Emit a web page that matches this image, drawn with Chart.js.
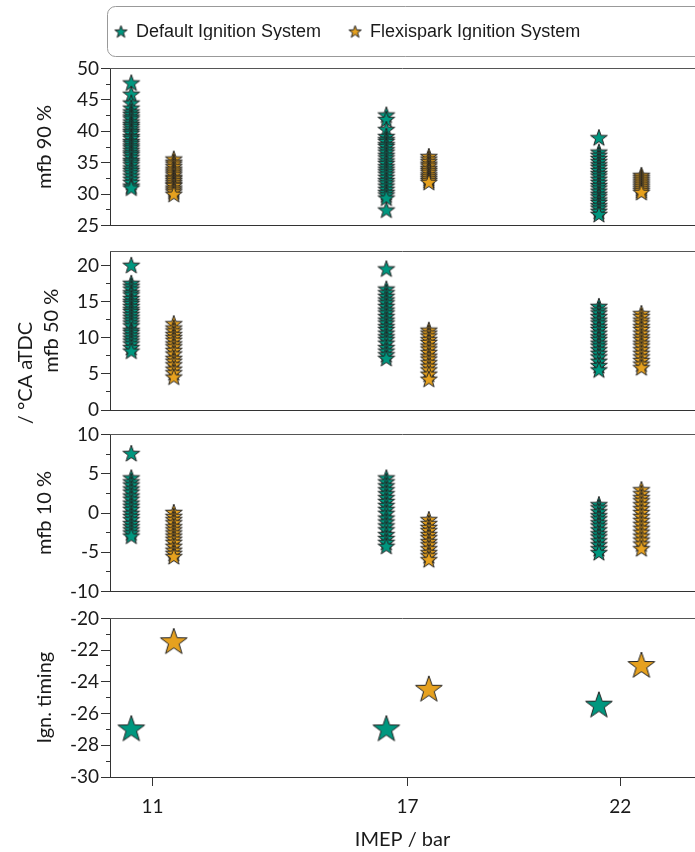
<!DOCTYPE html>
<html>
<head>
<meta charset="utf-8">
<title>Combustion phasing vs IMEP</title>
<script src="https://cdn.jsdelivr.net/npm/chart.js@4/dist/chart.umd.min.js"></script>
<style>
  html, body { margin: 0; padding: 0; background: #fff; overflow: hidden; }
  #wrap { position: relative; width: 695px; height: 852px; overflow: hidden; background: #fff; }
  #wrap canvas { position: absolute; left: 0; }
</style>
</head>
<body>
<div id="wrap">
  <canvas id="c90"  width="695" height="184" style="top:55px"></canvas>
  <canvas id="c50"  width="695" height="195" style="top:238px"></canvas>
  <canvas id="c10"  width="695" height="184" style="top:421px"></canvas>
  <canvas id="cign" width="695" height="247" style="top:605px"></canvas>
  <canvas id="cleg" width="608" height="90"  style="top:-5px;left:87px"></canvas>
</div>
<script>
// ---- data -------------------------------------------------------------
const imepLevels = [11, 17, 22];                       // IMEP / bar
const seriesNames = ['Default Ignition System', 'Flexispark Ignition System'];

// mass fraction burned 90 % (°CA aTDC), per IMEP level
const mfb90Default11 = [47.6, 45.8, 44.4, 43.6, 43.0, 42.6, 42.2, 41.9, 41.4, 41.0, 40.7, 40.3, 39.9, 39.6, 39.1, 38.8, 38.3, 38.0, 37.6, 37.3, 36.9, 36.5, 36.2, 35.8, 35.3, 35.0, 34.6, 34.1, 33.7, 33.3, 32.8, 32.3, 31.8, 31.2, 30.9];
const mfb90Flexi11   = [35.5, 35.0, 34.7, 34.3, 33.9, 33.6, 33.3, 33.0, 32.6, 32.4, 32.1, 31.8, 31.5, 31.3, 30.9, 30.6, 30.3, 29.9];
const mfb90Default17 = [42.5, 41.8, 40.2, 39.1, 38.6, 38.3, 37.8, 37.5, 37.0, 36.6, 36.1, 35.7, 35.2, 34.8, 34.3, 33.9, 33.5, 33.1, 32.6, 32.1, 31.7, 31.2, 30.7, 30.2, 29.8, 29.3, 27.4];
const mfb90Flexi17   = [35.9, 35.5, 35.1, 34.7, 34.4, 34.0, 33.7, 33.4, 33.0, 32.7, 32.4, 32.1, 31.8];
const mfb90Default22 = [38.9, 36.6, 36.1, 35.6, 35.1, 34.6, 34.2, 33.7, 33.2, 32.8, 32.3, 31.8, 31.3, 30.9, 30.4, 29.9, 29.5, 29.0, 28.6, 28.1, 27.7, 27.2, 26.7];
const mfb90Flexi22   = [32.9, 32.6, 32.3, 32.0, 31.7, 31.4, 31.1, 30.8, 30.5, 30.2];

// mass fraction burned 50 % (°CA aTDC)
const mfb50Default11 = [20.0, 17.5, 17.1, 16.7, 16.2, 15.9, 15.4, 15.0, 14.7, 14.3, 13.9, 13.6, 13.2, 12.8, 12.4, 12.0, 11.6, 11.0, 10.7, 10.3, 9.9, 9.5, 9.1, 8.6, 8.1];
const mfb50Flexi11   = [11.9, 11.3, 10.9, 10.4, 10.0, 9.6, 9.1, 8.7, 8.2, 7.7, 7.1, 6.7, 6.2, 5.6, 5.1, 4.5];
const mfb50Default17 = [19.5, 16.7, 16.2, 15.7, 15.2, 14.8, 14.3, 13.8, 13.4, 12.9, 12.4, 12.0, 11.5, 11.1, 10.6, 10.1, 9.7, 9.2, 8.6, 8.1, 7.6, 7.1];
const mfb50Flexi17   = [11.0, 10.6, 10.2, 9.7, 9.3, 8.8, 8.4, 7.9, 7.4, 7.0, 6.5, 6.0, 5.5, 4.9, 4.2];
const mfb50Default22 = [14.3, 13.8, 13.4, 12.9, 12.4, 12.0, 11.5, 11.1, 10.6, 10.1, 9.7, 9.2, 8.8, 8.3, 7.8, 7.3, 6.7, 6.1, 5.5];
const mfb50Flexi22   = [13.3, 12.9, 12.4, 12.0, 11.5, 11.1, 10.6, 10.1, 9.7, 9.2, 8.8, 8.3, 7.8, 7.3, 6.8, 6.3, 5.8];

// mass fraction burned 10 % (°CA aTDC)
const mfb10Default11 = [7.5, 4.4, 3.9, 3.5, 3.0, 2.6, 2.1, 1.7, 1.2, 0.8, 0.4, -0.1, -0.5, -0.9, -1.4, -1.8, -2.2, -2.6, -3.0];
const mfb10Flexi11   = [0.0, -0.5, -0.9, -1.3, -1.8, -2.2, -2.6, -3.0, -3.4, -3.8, -4.3, -4.8, -5.2, -5.6];
const mfb10Default17 = [4.4, 3.9, 3.4, 2.9, 2.4, 1.9, 1.4, 0.9, 0.4, -0.1, -0.7, -1.2, -1.7, -2.2, -2.8, -3.3, -3.8, -4.3];
const mfb10Flexi17   = [-0.9, -1.4, -1.9, -2.3, -2.8, -3.2, -3.7, -4.1, -4.6, -5.1, -5.5, -6.0];
const mfb10Default22 = [1.0, 0.6, 0.1, -0.4, -0.8, -1.3, -1.7, -2.2, -2.7, -3.1, -3.6, -4.1, -4.6, -5.1];
const mfb10Flexi22   = [2.9, 2.4, 1.9, 1.5, 1.0, 0.5, 0.0, -0.5, -1.0, -1.5, -2.0, -2.5, -3.0, -3.5, -4.0, -4.6];

// ignition timing (°CA aTDC), one value per IMEP level
const ignDefault = [-27.0, -27.0, -25.5];
const ignFlexi   = [-21.5, -24.5, -23.0];

// axis tick labels
const mfb90Ticks = [25, 30, 35, 40, 45, 50];
const mfb50Ticks = [0, 5, 10, 15, 20];
const mfb10Ticks = [-10, -5, 0, 5, 10];
const ignTicks   = [-30, -28, -26, -24, -22, -20];

// ---- styling ----------------------------------------------------------
const TEAL = '#00977f';
const ORANGE = '#e6a11f';
const EDGE = '#222222';
const AXIS = '#333333';
const TEXT = '#1a1a1a';
const SHIFT = 0.5;          // the two systems sit either side of each IMEP level
const X_MIN = 10, X_MAX = 23.76;
const tickFont  = { family: 'Lato', size: 19 };
const titleFont = { family: 'Lato', size: 20 };

function makeStar(R, fill) {
  const pad = 2;
  const size = Math.ceil(2 * R + 2 * pad);
  const c = document.createElement('canvas');
  c.width = size; c.height = size;
  const g = c.getContext('2d');
  const cx = size / 2, cy = size / 2;
  g.beginPath();
  for (let i = 0; i < 10; i++) {
    const r = i % 2 ? R * 0.4 : R;
    const a = -Math.PI / 2 + i * Math.PI / 5;
    const px = cx + r * Math.cos(a), py = cy + r * Math.sin(a);
    if (i === 0) g.moveTo(px, py); else g.lineTo(px, py);
  }
  g.closePath();
  g.fillStyle = fill;
  g.fill();
  g.lineWidth = 1;
  g.lineJoin = 'miter';
  g.strokeStyle = EDGE;
  g.stroke();
  return c;
}

const starSmall = { d: makeStar(8.8, TEAL), f: makeStar(8.8, ORANGE) };
const starBig   = { d: makeStar(14, TEAL),  f: makeStar(14, ORANGE) };
const starLeg   = { d: makeStar(6.5, TEAL), f: makeStar(6.5, ORANGE) };

function column(level, offset, values) {
  return values.map(v => ({ x: level + offset, y: v }));
}

function minorBetween(ticks) {
  const out = [];
  for (let i = 0; i < ticks.length - 1; i++) out.push((ticks[i] + ticks[i + 1]) / 2);
  return out;
}

// line along the top edge of every panel
const topFrame = {
  id: 'topFrame',
  afterDraw(chart) {
    const { ctx, chartArea: a } = chart;
    const y = Math.round(a.top) + 0.5;
    ctx.save();
    ctx.strokeStyle = '#555';
    ctx.lineWidth = 1;
    ctx.beginPath();
    ctx.moveTo(a.left, y);
    ctx.lineTo(chart.width, y);
    ctx.stroke();
    ctx.restore();
  }
};

// extra rotated caption placed left of an axis title
const sideCaption = {
  id: 'sideCaption',
  afterDraw(chart, args, o) {
    if (!o || !o.text) return;
    const ctx = chart.ctx;
    ctx.save();
    ctx.translate(o.x, o.y);
    ctx.rotate(-Math.PI / 2);
    ctx.font = `${titleFont.size}px ${titleFont.family}`;
    ctx.fillStyle = TEXT;
    ctx.textAlign = 'center';
    ctx.textBaseline = 'middle';
    ctx.fillText(o.text, 0, 0);
    ctx.restore();
  }
};

function panelChart(p) {
  const last = !!p.xTitle;
  const datasets = [
    { label: seriesNames[0], data: p.dDefault, pointStyle: p.star.d, pointRadius: p.r, backgroundColor: TEAL, borderColor: EDGE },
    { label: seriesNames[1], data: p.dFlexi,   pointStyle: p.star.f, pointRadius: p.r, backgroundColor: ORANGE, borderColor: EDGE }
  ];
  return new Chart(document.getElementById(p.id), {
    type: 'scatter',
    data: { datasets },
    options: {
      responsive: false,
      animation: false,
      events: [],
      layout: {
        autoPadding: false,
        padding: { top: p.areaTop - p.top, bottom: last ? 0 : (p.top + p.height - p.areaBottom), left: 0, right: 0 }
      },
      plugins: {
        legend: { display: false },
        tooltip: { enabled: false },
        sideCaption: p.caption || {}
      },
      scales: {
        x: {
          type: 'linear', position: 'bottom', min: X_MIN, max: X_MAX,
          afterBuildTicks: s => { s.ticks = imepLevels.map(v => ({ value: v })); },
          afterFit: s => { s.height = last ? (p.top + p.height - p.areaBottom) : 0; },
          ticks: { display: last, font: tickFont, color: TEXT, padding: 9, maxRotation: 0, autoSkip: false },
          grid: { drawOnChartArea: false, drawTicks: last, tickLength: 9, tickColor: AXIS, tickWidth: 1 },
          border: { display: true, color: AXIS, width: 1 },
          title: { display: last, text: p.xTitle || '', font: titleFont, color: TEXT, padding: { top: 0, bottom: 0 } }
        },
        y: {
          type: 'linear', position: 'left', weight: 2, min: p.min, max: p.max,
          afterBuildTicks: s => { s.ticks = p.ticks.map(v => ({ value: v })); },
          afterFit: s => { s.width = 110; },
          ticks: { font: tickFont, color: TEXT, padding: 2, autoSkip: false },
          grid: { drawOnChartArea: false, tickLength: 9, tickColor: AXIS, tickWidth: 1 },
          border: { display: true, color: AXIS, width: 1 },
          title: { display: true, text: p.yTitle, font: titleFont, color: TEXT, padding: { top: p.titlePad, bottom: 0 } }
        },
        yMinor: {
          type: 'linear', position: 'left', weight: 1, min: p.min, max: p.max,
          afterBuildTicks: s => { s.ticks = minorBetween(p.ticks).map(v => ({ value: v })); },
          afterFit: s => { s.width = 0; },
          ticks: { display: false },
          grid: { drawOnChartArea: false, tickLength: 4, tickColor: AXIS, tickWidth: 1 },
          border: { display: false }
        }
      }
    },
    plugins: [topFrame, sideCaption]
  });
}

function build() {
  const L = imepLevels;

  panelChart({
    id: 'c90', top: 55, height: 184, areaTop: 67, areaBottom: 227,
    min: 25, max: 50, ticks: mfb90Ticks, yTitle: 'mfb 90 %', titlePad: 33,
    star: starSmall, r: 9,
    dDefault: [...column(L[0], -SHIFT, mfb90Default11), ...column(L[1], -SHIFT, mfb90Default17), ...column(L[2], -SHIFT, mfb90Default22)],
    dFlexi:   [...column(L[0],  SHIFT, mfb90Flexi11),   ...column(L[1],  SHIFT, mfb90Flexi17),   ...column(L[2],  SHIFT, mfb90Flexi22)]
  });

  panelChart({
    id: 'c50', top: 238, height: 195, areaTop: 250, areaBottom: 410,
    min: 0, max: 22, ticks: mfb50Ticks, yTitle: 'mfb 50 %', titlePad: 40,
    caption: { text: '/ °CA aTDC', x: 26, y: 135 },
    star: starSmall, r: 9,
    dDefault: [...column(L[0], -SHIFT, mfb50Default11), ...column(L[1], -SHIFT, mfb50Default17), ...column(L[2], -SHIFT, mfb50Default22)],
    dFlexi:   [...column(L[0],  SHIFT, mfb50Flexi11),   ...column(L[1],  SHIFT, mfb50Flexi17),   ...column(L[2],  SHIFT, mfb50Flexi22)]
  });

  panelChart({
    id: 'c10', top: 421, height: 184, areaTop: 433, areaBottom: 593,
    min: -10, max: 10, ticks: mfb10Ticks, yTitle: 'mfb 10 %', titlePad: 33,
    star: starSmall, r: 9,
    dDefault: [...column(L[0], -SHIFT, mfb10Default11), ...column(L[1], -SHIFT, mfb10Default17), ...column(L[2], -SHIFT, mfb10Default22)],
    dFlexi:   [...column(L[0],  SHIFT, mfb10Flexi11),   ...column(L[1],  SHIFT, mfb10Flexi17),   ...column(L[2],  SHIFT, mfb10Flexi22)]
  });

  panelChart({
    id: 'cign', top: 605, height: 247, areaTop: 617, areaBottom: 777,
    min: -30, max: -20, ticks: ignTicks, yTitle: 'Ign. timing', titlePad: 33,
    xTitle: 'IMEP / bar',
    star: starBig, r: 14,
    dDefault: L.map((lv, i) => ({ x: lv - SHIFT, y: ignDefault[i] })),
    dFlexi:   L.map((lv, i) => ({ x: lv + SHIFT, y: ignFlexi[i] }))
  });

  // legend strip with rounded frame
  const legendFrame = {
    id: 'legendFrame',
    beforeDraw(chart) {
      const ctx = chart.ctx;
      const x = 20.5, y = 11.5, w = 700, h = 50, r = 8;
      ctx.save();
      ctx.strokeStyle = '#999';
      ctx.lineWidth = 1;
      ctx.beginPath();
      ctx.moveTo(x + r, y);
      ctx.lineTo(x + w, y);
      ctx.lineTo(x + w, y + h);
      ctx.lineTo(x + r, y + h);
      ctx.arcTo(x, y + h, x, y + h - r, r);
      ctx.lineTo(x, y + r);
      ctx.arcTo(x, y, x + r, y, r);
      ctx.stroke();
      ctx.restore();
    }
  };

  new Chart(document.getElementById('cleg'), {
    type: 'scatter',
    data: {
      datasets: [
        { label: seriesNames[0], data: [], pointStyle: starLeg.d, backgroundColor: TEAL },
        { label: seriesNames[1], data: [], pointStyle: starLeg.f, backgroundColor: ORANGE }
      ]
    },
    options: {
      responsive: false,
      animation: false,
      events: [],
      layout: { autoPadding: false },
      scales: { x: { display: false }, y: { display: false } },
      plugins: {
        tooltip: { enabled: false },
        legend: {
          display: true, position: 'top', align: 'start',
          labels: {
            usePointStyle: true, boxWidth: 12, boxHeight: 12, padding: 28,
            color: TEXT, font: { family: 'Liberation Sans', size: 18 },
            generateLabels: chart => chart.data.datasets.map((ds, i) => ({
              text: ds.label, pointStyle: ds.pointStyle, fillStyle: ds.backgroundColor,
              strokeStyle: EDGE, lineWidth: 0, hidden: false, datasetIndex: i, fontColor: TEXT
            }))
          }
        }
      }
    },
    plugins: [legendFrame]
  });
}

Promise.all([
  document.fonts.load('19px Lato'),
  document.fonts.load('20px Lato'),
  document.fonts.load('18px "Liberation Sans"')
]).catch(() => {}).then(build);
</script>
</body>
</html>
